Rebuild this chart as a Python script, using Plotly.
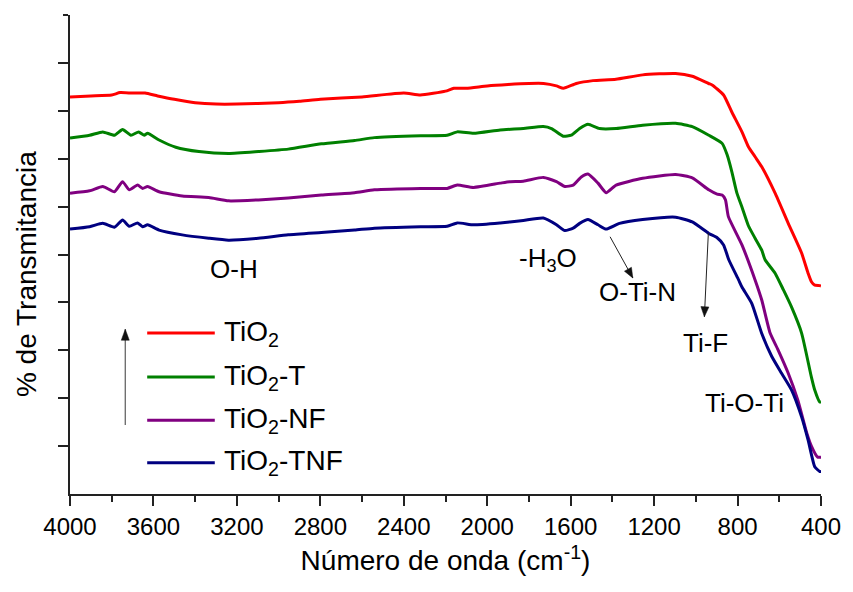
import plotly.graph_objects as go

# ---------------- data (wavenumber cm-1, % transmittance, arbitrary offset units) ----------------
wn_tio2 = [4000, 3900, 3800, 3760, 3700, 3640, 3580, 3500, 3400, 3300, 3200, 3000, 2900, 2800,
           2600, 2400, 2320, 2200, 2160, 2100, 2000, 1900, 1800, 1730, 1668, 1635, 1573,
           1493, 1383, 1255, 1097, 1017, 939, 922, 867, 827, 779, 748, 716, 684, 620, 557,
           493, 462, 446, 430, 406, 400]
t_tio2 = [82.9, 83.1, 83.3, 83.8, 83.7, 83.7, 83.1, 82.4, 81.7, 81.4, 81.4, 81.7, 82.0, 82.4,
          82.9, 83.7, 83.3, 84.1, 84.7, 84.7, 85.2, 85.5, 85.7, 85.7, 85.2, 84.7, 85.7,
          86.3, 86.6, 87.5, 87.8, 87.2, 85.7, 85.4, 83.3, 79.7, 75.6, 72.5, 70.4, 68.3, 62.8, 56.5,
          50.3, 46.1, 44.3, 43.6, 43.5, 43.4]

wn_tio2_t = [4000, 3906, 3843, 3787, 3748, 3708, 3671, 3644, 3628, 3573, 3493, 3382, 3240, 3097,
             2954, 2795, 2636, 2541, 2319, 2192, 2144, 2065, 1938, 1827, 1731, 1692, 1636, 1597,
             1557, 1517, 1462, 1382, 1255, 1097, 1017, 938, 874, 850, 827, 803, 779, 748, 716,
             684, 668, 620, 580, 541, 493, 446, 430, 406, 400]
t_tio2_t = [74.3, 74.9, 75.6, 74.9, 76.1, 74.9, 75.6, 74.9, 75.3, 73.9, 72.4, 71.5, 71.1, 71.5,
            72.0, 73.1, 73.8, 74.4, 74.8, 74.9, 75.6, 75.3, 76.0, 76.3, 76.7, 76.3, 74.7, 74.9,
            76.3, 77.2, 76.3, 76.3, 77.0, 77.4, 76.7, 74.9, 73.2, 70.8, 67.2, 62.8, 59.9, 56.0, 53.4,
            50.9, 48.9, 46.1, 42.6, 39.0, 33.6, 24.4, 21.7, 19.2, 19.2]

wn_tio2_nf = [4000, 3906, 3843, 3787, 3748, 3716, 3676, 3652, 3628, 3573, 3462, 3335, 3240, 3097,
              2954, 2795, 2636, 2541, 2319, 2192, 2144, 2065, 1938, 1892, 1827, 1731, 1668, 1628,
              1588, 1549, 1517, 1469, 1430, 1382, 1255, 1097, 1017, 938, 898, 874, 858, 844, 779,
              716, 684, 644, 606, 558, 511, 468, 446, 416, 400]
t_tio2_nf = [62.8, 63.3, 64.2, 63.1, 65.2, 63.5, 64.5, 63.8, 64.2, 63.1, 62.2, 61.9, 61.2, 61.4,
             61.8, 62.4, 62.9, 63.5, 63.8, 63.8, 64.5, 64.0, 64.9, 65.2, 65.3, 66.1, 65.2, 64.2,
             64.5, 66.2, 66.8, 64.9, 62.9, 64.5, 65.9, 66.7, 66.0, 63.5, 62.6, 62.4, 61.4, 57.9, 52.0,
             44.7, 40.5, 33.6, 30.1, 25.3, 19.6, 12.7, 10.0, 7.7, 7.7]

wn_tio2_tnf = [4000, 3906, 3843, 3787, 3748, 3716, 3676, 3652, 3628, 3573, 3462, 3335, 3240, 3097,
               2954, 2795, 2636, 2541, 2319, 2192, 2144, 2065, 1938, 1892, 1827, 1731, 1668, 1628,
               1588, 1557, 1517, 1469, 1430, 1366, 1255, 1097, 1017, 938, 898, 867, 842, 795, 779,
               732, 684, 636, 589, 541, 493, 462, 430, 406, 400]
t_tio2_tnf = [55.3, 55.8, 56.5, 55.7, 57.2, 55.9, 56.6, 55.8, 56.2, 55.1, 54.1, 53.4, 53.0, 53.4,
              54.1, 54.6, 55.1, 55.5, 55.8, 55.9, 56.6, 56.2, 56.6, 56.8, 57.1, 57.6, 56.2, 55.0,
              55.5, 56.5, 57.3, 56.2, 55.3, 56.5, 57.3, 57.8, 56.8, 54.4, 53.5, 52.0, 48.9, 44.7, 43.2,
              39.8, 33.5, 28.7, 25.2, 21.7, 16.1, 11.3, 5.7, 4.7, 4.7]

series_names = ["TiO<sub>2</sub>", "TiO<sub>2</sub>-T", "TiO<sub>2</sub>-NF", "TiO<sub>2</sub>-TNF"]
series_colors = ["#FF0000", "#008000", "#800080", "#000080"]
x_ticks = [4000, 3600, 3200, 2800, 2400, 2000, 1600, 1200, 800, 400]

FONT = "Liberation Sans, Arial, sans-serif"

fig = go.Figure()
for name, color, xs, ys in zip(series_names, series_colors,
                               [wn_tio2, wn_tio2_t, wn_tio2_nf, wn_tio2_tnf],
                               [t_tio2, t_tio2_t, t_tio2_nf, t_tio2_tnf]):
    fig.add_trace(go.Scatter(x=xs, y=ys, mode="lines", name=name,
                             line=dict(color=color, width=3, shape="spline", smoothing=0.5),
                             showlegend=False))

annotations = []
shapes = []
# custom legend (long line samples + text)
leg_y = [33.6, 24.4, 15.4, 6.5]
for name, color, yy in zip(series_names, series_colors, leg_y):
    shapes.append(dict(type="line", xref="x", yref="y", x0=3630, x1=3306, y0=yy, y1=yy,
                       line=dict(color=color, width=3)))
    annotations.append(dict(x=3272, y=yy, xref="x", yref="y", text=name, showarrow=False,
                            xanchor="left", yanchor="middle",
                            font=dict(family=FONT, size=28, color="black")))


def arrow(x0, y0, x1, y1, head, color, width):
    """line from (x0,y0) to tip (x1,y1) in data units; head = triangle path in pixels around tip"""
    shapes.append(dict(type="line", xref="x", yref="y", x0=x0, y0=y0, x1=x1, y1=y1,
                       line=dict(color=color, width=width)))
    shapes.append(dict(type="path", xref="x", yref="y", xsizemode="pixel", ysizemode="pixel",
                       xanchor=x1, yanchor=y1, path=head, fillcolor="#111111",
                       line=dict(color="#111111", width=0.5)))


# legend arrow (points up)
arrow(3735, 14.4, 3735, 34.4, "M0,0 L-4,-11 L4,-11 Z", "#666666", 1.3)
# arrows towards bands
arrow(1411, 53.7, 1302, 45.1, "M0,0 L-1.4,10.7 L-8.4,6.8 Z", "#222222", 1)
arrow(940, 54.5, 959, 37.0, "M0,0 L4.5,9.8 L-3.5,10.2 Z", "#222222", 1)

# band labels
labels = [("O-H", 3216, 47.0), ("-H<sub>3</sub>O", 1711, 49.0), ("O-Ti-N", 1280, 42.1),
          ("Ti-F", 954, 31.6), ("Ti-O-Ti", 768, 19.1)]
for txt, xx, yy in labels:
    annotations.append(dict(x=xx, y=yy, xref="x", yref="y", text=txt, showarrow=False,
                            xanchor="center", yanchor="middle",
                            font=dict(family=FONT, size=26, color="black")))
# y axis title
annotations.append(dict(x=-0.058, y=0.46, xref="paper", yref="paper", text="% de Transmitancia",
                        textangle=-90, showarrow=False, xanchor="center", yanchor="middle",
                        font=dict(family=FONT, size=28, color="black")))

fig.update_layout(
    width=853, height=592,
    margin=dict(l=70, r=27, t=15, b=98),
    paper_bgcolor="white", plot_bgcolor="white",
    font=dict(family=FONT, color="black"),
    shapes=shapes, annotations=annotations, showlegend=False,
)
fig.update_xaxes(
    range=[4000, 400], tickmode="array", tickvals=x_ticks,
    ticks="outside", ticklen=10, tickwidth=1.5, tickcolor="#222222",
    minor=dict(dtick=200, tick0=400, ticks="outside", ticklen=6, tickwidth=1.5, tickcolor="#222222"),
    showline=True, linecolor="#222222", linewidth=2, showgrid=False, zeroline=False,
    tickfont=dict(family=FONT, size=24, color="black"),
    title=dict(text="Número de onda (cm<sup>-1</sup>)", font=dict(family=FONT, size=28, color="black"),
               standoff=12),
)
fig.update_yaxes(
    range=[0, 100], tickmode="array", tickvals=[10, 20, 30, 40, 50, 60, 70, 80, 90],
    showticklabels=False, ticks="outside", ticklen=10, tickwidth=1.5, tickcolor="#222222",
    minor=dict(tickvals=[100], ticks="outside", ticklen=5, tickwidth=1.5, tickcolor="#222222"),
    showline=True, linecolor="#222222", linewidth=2, showgrid=False, zeroline=False,
)

fig.write_html("out.html")
